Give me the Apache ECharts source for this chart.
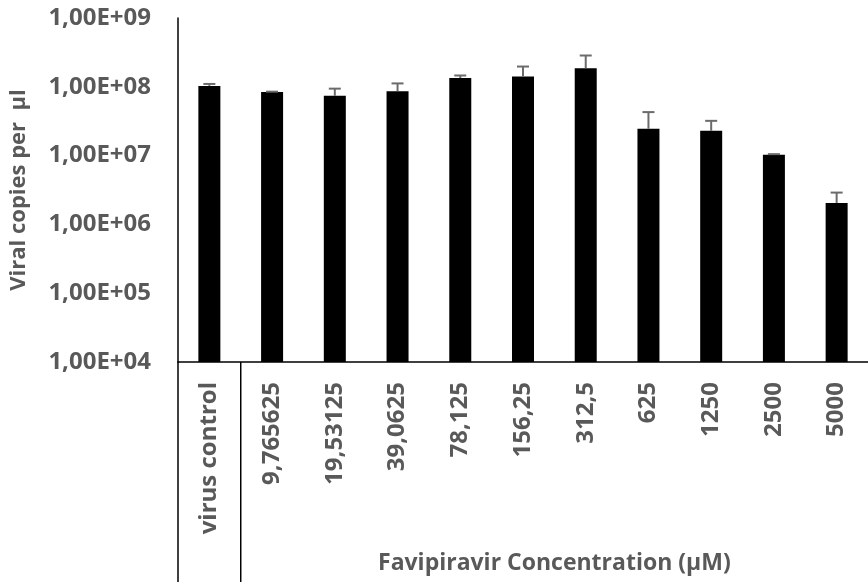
<!DOCTYPE html>
<html>
<head>
<meta charset="utf-8">
<script src="https://cdn.jsdelivr.net/npm/echarts@6/dist/echarts.min.js"></script>
<style>
  html, body { margin: 0; padding: 0; background: #ffffff; }
  #chart { width: 868px; height: 585px; }
</style>
</head>
<body>
<div id="chart"></div>
<script>
// Viral load per condition (copies per µl), with upper error bars
const categories = ['virus control', '9,765625', '19,53125', '39,0625', '78,125', '156,25', '312,5', '625', '1250', '2500', '5000'];
const copies     = [1.03e8, 8.4e7, 7.4e7, 8.65e7, 1.34e8, 1.41e8, 1.86e8, 2.45e7, 2.29e7, 1.03e7, 2.05e6];
const upperError = [7e6, 1e6, 2.0e7, 2.55e7, 1.2e7, 5.6e7, 9.9e7, 1.84e7, 9.1e6, 2e5, 8.5e5];
const yTickLabels = ['1,00E+04', '1,00E+05', '1,00E+06', '1,00E+07', '1,00E+08', '1,00E+09'];
const yTitle = 'Viral copies per  µl';
const groupTitle = 'Favipiravir Concentration (µM)';

const FONT = '"Open Sans", "Noto Sans", sans-serif';
const TEXT = '#595959';

const chart = echarts.init(document.getElementById('chart'), null, { renderer: 'canvas' });

const errorData = categories.map((c, i) => [i, copies[i], copies[i] + upperError[i]]);

chart.setOption({
  animation: false,
  backgroundColor: '#ffffff',
  grid: { left: 178, top: 18, width: 700, height: 344, containLabel: false },
  xAxis: {
    type: 'category',
    data: categories,
    boundaryGap: true,
    axisLine: { show: true, lineStyle: { color: '#000000', width: 1.5 } },
    axisTick: { show: false },
    axisLabel: {
      interval: 0, rotate: 90, margin: 20,
      color: TEXT, fontFamily: FONT, fontWeight: 'bold', fontSize: 24
    },
    splitLine: { show: false }
  },
  yAxis: {
    type: 'log',
    logBase: 10,
    min: 1e4,
    max: 1e9,
    name: yTitle,
    nameLocation: 'middle',
    nameRotate: 90,
    nameGap: 148,
    nameTextStyle: { color: TEXT, fontFamily: FONT, fontWeight: 'bold', fontSize: 22 },
    axisLine: { show: true, lineStyle: { color: '#000000', width: 1.5 } },
    axisTick: { show: false },
    splitLine: { show: false },
    axisLabel: {
      margin: 27,
      color: TEXT, fontFamily: FONT, fontWeight: 'bold', fontSize: 24,
      formatter: (v) => yTickLabels[Math.round(Math.log10(v)) - 4]
    }
  },
  series: [
    {
      type: 'bar',
      data: copies,
      barWidth: 22,
      itemStyle: { color: '#000000' }
    },
    {
      type: 'custom',
      z: 5,
      data: errorData,
      renderItem: (params, api) => {
        const base = api.coord([api.value(0), api.value(1)]);
        const top = api.coord([api.value(0), api.value(2)]);
        const half = 6;
        const style = { stroke: '#6b6b6b', lineWidth: 2 };
        return {
          type: 'group',
          children: [
            { type: 'line', shape: { x1: base[0], y1: base[1], x2: top[0], y2: top[1] }, style },
            { type: 'line', shape: { x1: top[0] - half, y1: top[1], x2: top[0] + half, y2: top[1] }, style }
          ]
        };
      }
    }
  ]
});

// Two-level category axis: extended frame lines and the group title below the labels
const cx0 = chart.convertToPixel({ xAxisIndex: 0 }, 0);
const cx1 = chart.convertToPixel({ xAxisIndex: 0 }, 1);
const cxLast = chart.convertToPixel({ xAxisIndex: 0 }, categories.length - 1);
const band = cx1 - cx0;
const axisY = chart.convertToPixel({ yAxisIndex: 0 }, 1e4);
const leftX = cx0 - band / 2;
const dividerX = (cx0 + cx1) / 2;
const groupCenter = (dividerX + cxLast + band / 2) / 2;
const bottomY = 582;

chart.setOption({
  graphic: [
    { type: 'line', shape: { x1: leftX, y1: axisY, x2: leftX, y2: bottomY }, style: { stroke: '#000000', lineWidth: 1.5 } },
    { type: 'line', shape: { x1: dividerX, y1: axisY, x2: dividerX, y2: bottomY }, style: { stroke: '#000000', lineWidth: 1.5 } },
    {
      type: 'text', x: groupCenter, y: 563,
      style: { text: groupTitle, fill: TEXT, font: 'bold 23px ' + FONT, align: 'center', verticalAlign: 'middle' }
    }
  ]
});
</script>
</body>
</html>
